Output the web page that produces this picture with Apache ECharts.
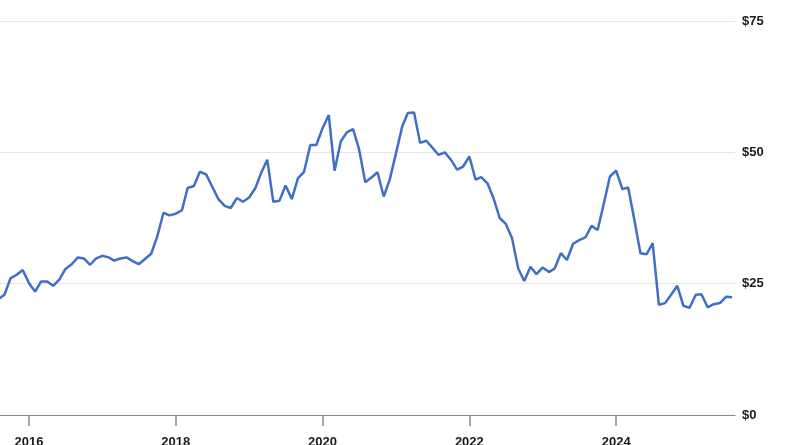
<!DOCTYPE html>
<html>
<head>
<meta charset="utf-8">
<script src="https://cdn.jsdelivr.net/npm/echarts@6/dist/echarts.min.js"></script>
<style>
html,body{margin:0;padding:0;background:#fff;overflow:hidden;}
#chart{width:800px;height:445px;}
</style>
</head>
<body>
<div id="chart"></div>
<script>
// Monthly closing prices (first of month), Aug 2015 .. Aug 2025
const prices2015 = [22.0, 22.9, 26.0, 26.7, 27.6]; // Aug-Dec
const prices2016 = [25.1, 23.5, 25.4, 25.4, 24.6, 25.8, 27.8, 28.7, 30.0, 29.8, 28.6, 29.8];
const prices2017 = [30.3, 30.0, 29.4, 29.8, 30.0, 29.3, 28.7, 29.7, 30.7, 34.0, 38.5, 38.0];
const prices2018 = [38.3, 39.0, 43.2, 43.6, 46.3, 45.8, 43.5, 41.1, 39.8, 39.4, 41.3, 40.6];
const prices2019 = [41.4, 43.2, 46.0, 48.6, 40.6, 40.8, 43.7, 41.1, 45.1, 46.3, 51.4, 51.4];
const prices2020 = [54.6, 57.1, 46.5, 52.1, 53.8, 54.4, 50.6, 44.3, 45.2, 46.2, 41.6, 44.8];
const prices2021 = [49.8, 54.9, 57.5, 57.6, 51.8, 52.2, 50.9, 49.5, 50.0, 48.6, 46.7, 47.3];
const prices2022 = [49.2, 44.8, 45.3, 44.1, 41.3, 37.5, 36.4, 33.7, 27.9, 25.5, 28.2, 26.8];
const prices2023 = [28.1, 27.2, 27.9, 30.8, 29.5, 32.6, 33.3, 33.8, 36.0, 35.2, 40.3, 45.4];
const prices2024 = [46.5, 43.0, 43.3, 37.1, 30.8, 30.6, 32.7, 21.0, 21.3, 22.9, 24.6, 20.8];
const prices2025 = [20.4, 22.9, 23.0, 20.5, 21.1, 21.3, 22.5, 22.4]; // Jan-Aug

const yearSeries = [
  {year: 2015, startMonth: 8, values: prices2015},
  {year: 2016, startMonth: 1, values: prices2016},
  {year: 2017, startMonth: 1, values: prices2017},
  {year: 2018, startMonth: 1, values: prices2018},
  {year: 2019, startMonth: 1, values: prices2019},
  {year: 2020, startMonth: 1, values: prices2020},
  {year: 2021, startMonth: 1, values: prices2021},
  {year: 2022, startMonth: 1, values: prices2022},
  {year: 2023, startMonth: 1, values: prices2023},
  {year: 2024, startMonth: 1, values: prices2024},
  {year: 2025, startMonth: 1, values: prices2025}
];

const tickYears = [2016, 2018, 2020, 2022, 2024];
const yTicks = [0, 25, 50, 75];
const rangeStart = '2015-08-10';
const rangeEnd = '2025-08-15';

// convert a date string to a fractional year
function yearFrac(s) {
  const p = s.split('-').map(Number);
  const t = Date.UTC(p[0], p[1] - 1, p[2]);
  const a = Date.UTC(p[0], 0, 1), b = Date.UTC(p[0] + 1, 0, 1);
  return p[0] + (t - a) / (b - a);
}

const data = [];
yearSeries.forEach(function (ys) {
  ys.values.forEach(function (v, i) {
    const m = ys.startMonth + i;
    data.push([yearFrac(ys.year + '-' + m + '-1'), v]);
  });
});

const chart = echarts.init(document.getElementById('chart'), null, {renderer: 'canvas'});
chart.setOption({
  animation: false,
  backgroundColor: '#ffffff',
  grid: {left: 0, right: 65, top: 21, bottom: 30, containLabel: false, outerBoundsMode: 'none'},
  xAxis: {
    type: 'value',
    min: yearFrac(rangeStart),
    max: yearFrac(rangeEnd),
    axisLine: {show: true, lineStyle: {color: '#8a8a8a', width: 1.2}},
    axisTick: {show: true, customValues: tickYears, length: 11, lineStyle: {color: '#8a8a8a', width: 1.5}},
    axisLabel: {
      show: true,
      customValues: tickYears,
      margin: 21,
      fontFamily: 'Liberation Sans, Arial, sans-serif',
      fontWeight: 'bold',
      fontSize: 13,
      color: '#1a1a1a',
      formatter: function (v) { return String(Math.round(v)); }
    },
    splitLine: {show: false}
  },
  yAxis: {
    type: 'value',
    position: 'right',
    min: 0,
    max: 75,
    interval: 25,
    axisLine: {show: false},
    axisTick: {show: false},
    splitLine: {show: true, lineStyle: {color: '#e6e6e6', width: 1}},
    axisLabel: {
      margin: 7,
      fontFamily: 'Liberation Sans, Arial, sans-serif',
      fontWeight: 'bold',
      fontSize: 13,
      color: '#1a1a1a',
      formatter: function (v) { return yTicks.indexOf(v) >= 0 ? '$' + v : ''; }
    }
  },
  series: [{
    type: 'line',
    data: data,
    showSymbol: false,
    symbol: 'none',
    clip: true,
    lineStyle: {color: '#3f70c6', width: 2.5},
    itemStyle: {color: '#3f70c6'}
  }]
});
</script>
</body>
</html>
